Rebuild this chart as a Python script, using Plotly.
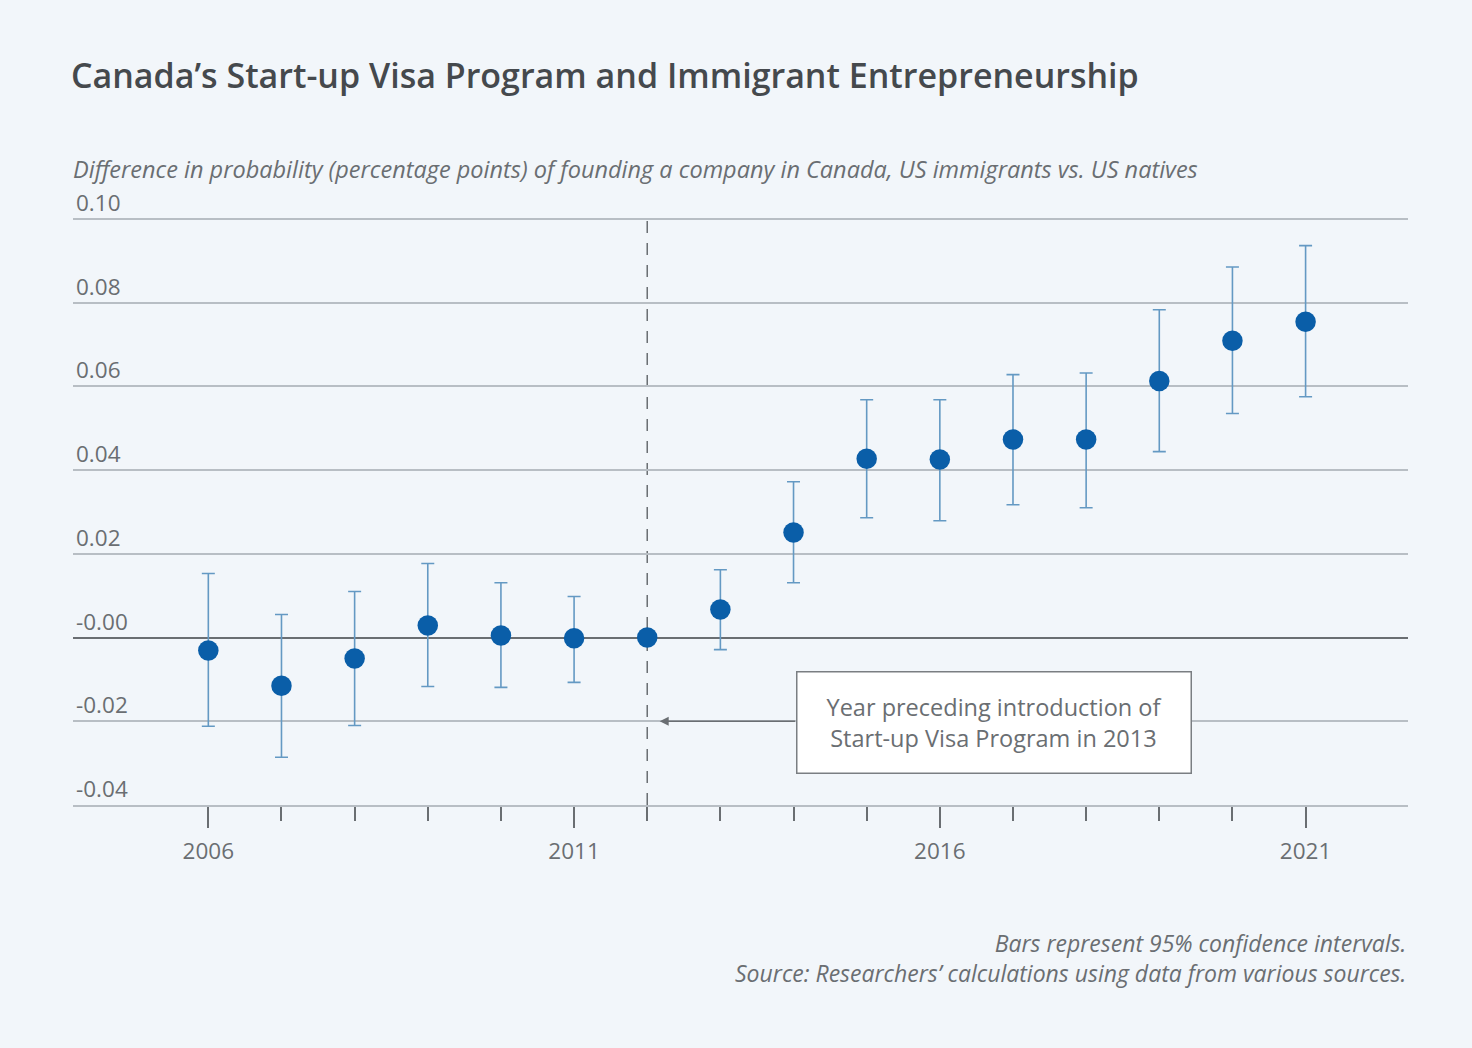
import plotly.graph_objects as go

years = list(range(2006, 2022))
estimates = [-0.0031, -0.0115, -0.0050, 0.0029, 0.0005, -0.0002, 0.0000, 0.0067,
             0.0251, 0.0427, 0.0425, 0.0473, 0.0473, 0.0613, 0.0709, 0.0754]
ci_upper = [0.0153, 0.0055, 0.0110, 0.0177, 0.0131, 0.0098, 0.0000, 0.0162,
            0.0372, 0.0568, 0.0568, 0.0628, 0.0632, 0.0783, 0.0885, 0.0936]
ci_lower = [-0.0212, -0.0286, -0.0210, -0.0117, -0.0119, -0.0107, 0.0000, -0.0029,
            0.0131, 0.0286, 0.0279, 0.0317, 0.0310, 0.0444, 0.0535, 0.0575]
y_ticks = [-0.04, -0.02, 0.0, 0.02, 0.04, 0.06, 0.08, 0.10]
y_tick_labels = ["-0.04", "-0.02", "-0.00", "0.02", "0.04", "0.06", "0.08", "0.10"]
x_ticks = [2006, 2011, 2016, 2021]
ref_year = 2012

err_plus = [u - e for u, e in zip(ci_upper, estimates)]
err_minus = [e - l for e, l in zip(estimates, ci_lower)]
has_ci = [u != l for u, l in zip(ci_upper, ci_lower)]

FONT = "Open Sans"
BG = "#f2f6fa"
GRAY = "#6a6e72"
GRID = "#b8bec4"

W, H = 1472, 1048
L, R, T, B = 73, 64, 177, 243
PW, PH = W - L - R, H - T - B
Y_MIN, Y_MAX = -0.04, 0.11

fig = go.Figure()
fig.add_trace(go.Scatter(
    x=[y for y, h in zip(years, has_ci) if h],
    y=[e for e, h in zip(estimates, has_ci) if h],
    mode="markers",
    marker=dict(size=1, color="rgba(0,0,0,0)"),
    error_y=dict(type="data", symmetric=False,
                 array=[p for p, h in zip(err_plus, has_ci) if h],
                 arrayminus=[m for m, h in zip(err_minus, has_ci) if h],
                 color="#6499c3", thickness=1.6, width=6.5),
    hoverinfo="skip", showlegend=False,
))
fig.add_trace(go.Scatter(
    x=years, y=estimates, mode="markers",
    marker=dict(size=20.5, color="#0a5ea8"),
    showlegend=False,
))

fig.add_shape(type="line", x0=ref_year, x1=ref_year, y0=Y_MIN, y1=0.10,
              xref="x", yref="y", layer="below",
              line=dict(color=GRAY, width=1.5, dash="12px,10px"))

fig.add_annotation(
    x=2016.74, y=-0.0202, xref="x", yref="y",
    text="Year preceding introduction of<br>Start-up Visa Program in 2013",
    showarrow=False, font=dict(family=FONT, size=23.5, color=GRAY),
    bgcolor="#ffffff", bordercolor="#7a7e82", borderwidth=1.5,
    borderpad=0, align="center", width=393, height=100,
)
fig.add_annotation(
    x=ref_year + 0.17, y=-0.02, ax=2014.04, ay=-0.02, xref="x", yref="y",
    axref="x", ayref="y", text="", showarrow=True,
    arrowhead=2, arrowsize=1.2, arrowwidth=1.5, arrowcolor=GRAY,
)

fig.update_layout(
    width=W, height=H,
    paper_bgcolor=BG, plot_bgcolor=BG,
    margin=dict(l=L, r=R, t=T, b=B),
    font=dict(family=FONT, color=GRAY),
    title=dict(
        text="Canada’s Start-up Visa Program and Immigrant Entrepreneurship",
        x=71 / W, xanchor="left", y=1 - 76 / H, yanchor="middle",
        font=dict(family=FONT, size=34, color="#45494d", weight=600),
    ),
    xaxis=dict(
        range=[2004.15, 2022.4], tickvals=x_ticks, ticktext=[str(v) for v in x_ticks],
        ticks="outside", ticklen=21, tickwidth=1.6, tickcolor=GRAY,
        minor=dict(tickmode="array", tickvals=years, ticks="outside", ticklen=14,
                   tickwidth=1.6, tickcolor=GRAY, showgrid=False),
        showgrid=False, zeroline=False,
        showline=True, linecolor=GRID, linewidth=1.6,
        ticklabelstandoff=4,
        tickfont=dict(family=FONT, size=22.5, color=GRAY),
    ),
    yaxis=dict(
        range=[Y_MIN, Y_MAX], tickvals=y_ticks, ticktext=y_tick_labels,
        ticklabelposition="inside top", ticks="",
        showgrid=True, gridcolor=GRID, gridwidth=1.6,
        zeroline=True, zerolinecolor=GRAY, zerolinewidth=1.8,
        showline=False,
        tickfont=dict(family=FONT, size=22.5, color=GRAY),
    ),
)

fig.add_annotation(
    text="<i>Difference in probability (percentage points) of founding a company in Canada, US immigrants vs. US natives</i>",
    xref="paper", yref="paper", x=-2 / PW, y=1 + (T - 169) / PH,
    xanchor="left", yanchor="middle", showarrow=False,
    font=dict(family=FONT, size=23.5, color=GRAY),
)
fig.add_annotation(
    text="<i>Bars represent 95% confidence intervals.</i><br>"
         "<i>Source: Researchers’ calculations using data from various sources.</i>",
    xref="paper", yref="paper", x=1, y=-(958 - 805) / PH,
    xanchor="right", yanchor="middle", showarrow=False, align="right",
    font=dict(family=FONT, size=23, color=GRAY),
)

fig.write_html("out.html", config={"displayModeBar": False},
               post_script="document.body.style.margin='0';document.body.style.background='%s';" % BG)
